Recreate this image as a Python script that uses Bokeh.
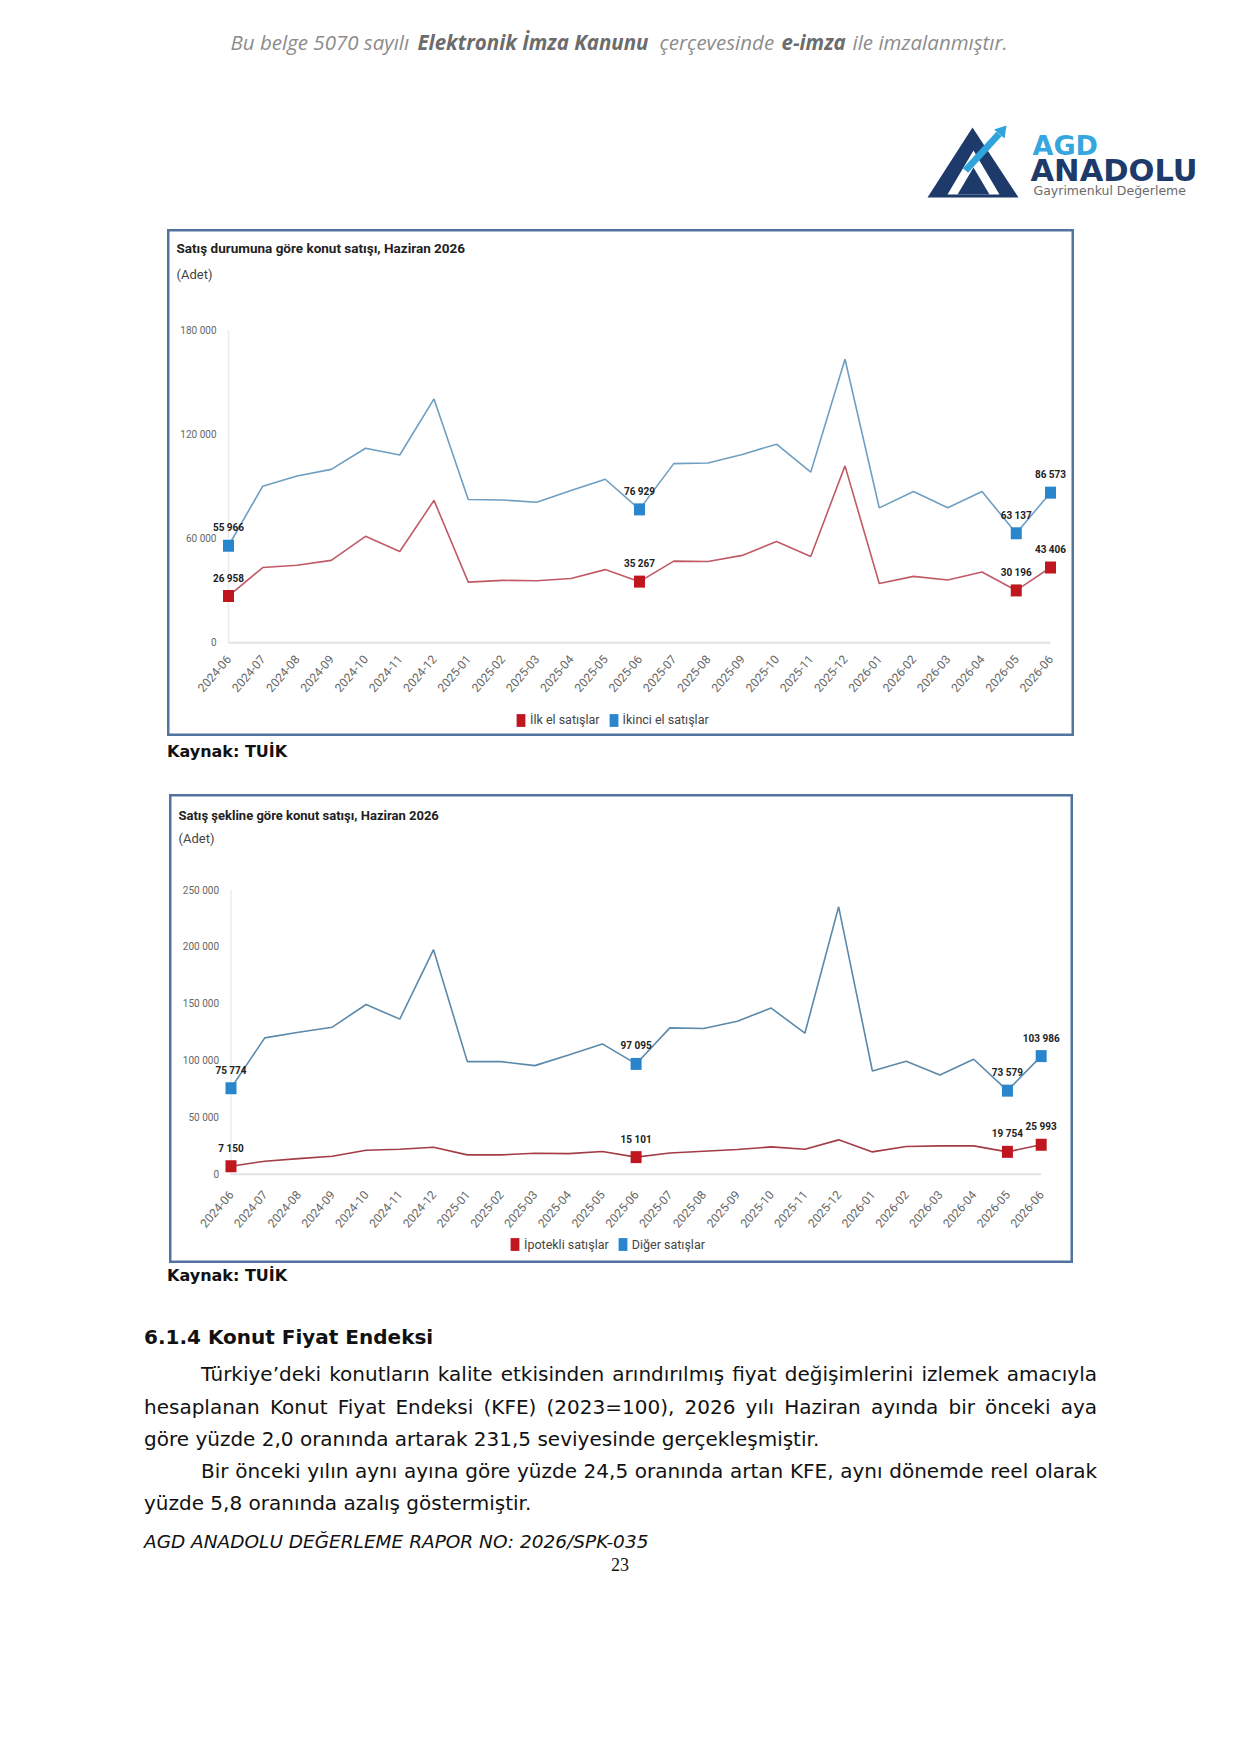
from bokeh.plotting import figure
from bokeh.models import Range1d, FixedTicker, Label, Legend, LegendItem, Div, Spacer
from bokeh.layouts import column, row
from bokeh.embed import file_html
from bokeh.resources import INLINE
from bokeh.core.properties import value

# ---------------- data ----------------
months = ["2024-06", "2024-07", "2024-08", "2024-09", "2024-10", "2024-11", "2024-12",
          "2025-01", "2025-02", "2025-03", "2025-04", "2025-05", "2025-06", "2025-07",
          "2025-08", "2025-09", "2025-10", "2025-11", "2025-12", "2026-01", "2026-02",
          "2026-03", "2026-04", "2026-05", "2026-06"]

chart1_title = "Satış durumuna göre konut satışı, Haziran 2026"
chart2_title = "Satış şekline göre konut satışı, Haziran 2026"
unit_label = "(Adet)"

ilk_el_name = "İlk el satışlar"
ikinci_el_name = "İkinci el satışlar"
ilk_el = [26958, 43400, 44700, 47500, 61400, 52600, 82100, 35000, 36000, 35800, 37100,
          42200, 35267, 47100, 46900, 50400, 58400, 49800, 102000, 34200, 38300, 36200,
          40800, 30196, 43406]
ikinci_el = [55966, 90300, 96200, 100000, 112200, 108300, 140600, 82600, 82300, 81000,
             87800, 94300, 76929, 103300, 103700, 108600, 114500, 98400, 163500, 77800,
             87200, 77900, 87200, 63137, 86573]

ipotekli_name = "İpotekli satışlar"
diger_name = "Diğer satışlar"
ipotekli = [7150, 11500, 13800, 15900, 21200, 22000, 23800, 17100, 17100, 18500, 18200,
            20000, 15101, 18800, 20300, 21800, 24100, 22100, 30300, 19700, 24400, 25000,
            25000, 19754, 25993]
diger = [75774, 120000, 125000, 129400, 149400, 136500, 197600, 99100, 99100, 95600,
         105000, 114700, 97095, 128800, 128200, 134700, 146200, 124100, 235300, 90900,
         99400, 87400, 101200, 73579, 103986]

chart1_yticks = [0, 60000, 120000, 180000]
chart1_yticklabels = ["0", "60 000", "120 000", "180 000"]
chart2_yticks = [0, 50000, 100000, 150000, 200000, 250000]
chart2_yticklabels = ["0", "50 000", "100 000", "150 000", "200 000", "250 000"]
labelled_idx = [0, 12, 23, 24]

source_note = "Kaynak: TUİK"

# ---------------- styles ----------------
BORDER = "#52739f"
RED_M = "#c0161f"
BLUE_M = "#2a86cc"
FONT = "Roboto"


def fmt(v):
    return f"{v:,}".replace(",", " ")


def make_chart(title, red_vals, blue_vals, red_name, blue_name, yticks, yticklabels, g):
    """g holds the box geometry in page pixels: box (left, top, width, height),
    pixel x of first category, pixel step, pixel y of value 0 and pixels per unit."""
    n = len(months)
    xs = list(range(n))
    L, T, W, H = g["box"]
    x0, step, y0, ppu = g["x0"], g["step"], g["y0"], g["ppu"]

    def dx(px):
        return (px - x0) / step

    def dy(py):
        return (y0 - py) / ppu

    p = figure(width=W, height=H, output_backend="svg", toolbar_location=None,
               x_range=Range1d(dx(L), dx(L + W)), y_range=Range1d(dy(T + H), dy(T)),
               min_border=0, background_fill_color="white", border_fill_color="white")
    p.grid.visible = False
    p.outline_line_color = BORDER
    p.outline_line_width = 4

    xa = p.xaxis[0]
    xa.fixed_location = 0
    xa.ticker = FixedTicker(ticks=xs)
    xa.major_label_overrides = {i: m for i, m in enumerate(months)}
    xa.major_label_orientation = 0.86
    xa.axis_line_color = None
    xa.major_tick_line_color = None
    xa.minor_tick_line_color = None
    xa.major_label_text_font = FONT
    xa.major_label_text_font_size = "12px"
    xa.major_label_text_color = "#666666"
    xa.major_label_standoff = g["xso"]

    ya = p.yaxis[0]
    ya.fixed_location = 0
    ya.ticker = FixedTicker(ticks=yticks)
    ya.major_label_overrides = {t: l for t, l in zip(yticks, yticklabels)}
    ya.axis_line_color = None
    ya.major_tick_line_color = None
    ya.minor_tick_line_color = None
    ya.major_label_text_font = FONT
    ya.major_label_text_font_size = "10px"
    ya.major_label_text_color = "#666666"
    ya.major_label_standoff = g["yso"]

    # faint axis lines
    p.line([0, 0], [0, yticks[-1]], line_color="#ececec", line_width=1.5)
    p.line([0, n - 1], [0, 0], line_color="#e2e2e2", line_width=2)

    p.line(xs, blue_vals, line_color=g["blue_line"], line_width=1.6)
    p.line(xs, red_vals, line_color=g["red_line"], line_width=1.6)

    lx = [xs[i] for i in labelled_idx]
    marks = {}
    for key, vals, col in (("blue", blue_vals, BLUE_M), ("red", red_vals, RED_M)):
        ly = [vals[i] for i in labelled_idx]
        marks[key] = p.rect(lx, ly, width=11, height=12, width_units="screen",
                            height_units="screen", fill_color=col, line_color=None)
        p.text(lx, ly, text=[fmt(v) for v in ly], text_align="center",
               text_baseline="middle", y_offset=-18, text_font=value(FONT),
               text_font_style="bold", text_font_size="10px", text_color="#222222")

    tx, ty, ay = g["title_pos"]
    p.add_layout(Label(x=dx(tx), y=dy(ty), text=title, text_font=FONT,
                       text_font_style="bold", text_font_size=g["tfs"],
                       text_color="#222222", text_baseline="middle"))
    p.add_layout(Label(x=dx(tx), y=dy(ay), text=unit_label, text_font=FONT,
                       text_font_size="13px", text_color="#444444",
                       text_baseline="middle"))

    lgx, lgy = g["legend_pos"]
    leg = Legend(items=[LegendItem(label=red_name, renderers=[marks["red"]]),
                        LegendItem(label=blue_name, renderers=[marks["blue"]])],
                 orientation="horizontal", location=(lgx - L, (T + H) - lgy),
                 glyph_width=11, glyph_height=16, label_height=16, label_standoff=4,
                 spacing=8, padding=0, margin=0, border_line_color=None,
                 background_fill_alpha=0, label_text_font=FONT,
                 label_text_font_size="12.5px", label_text_color="#444444")
    p.add_layout(leg)
    return p


g1 = dict(box=(167, 229, 907, 507), x0=228.0, step=34.25, y0=642.3, ppu=312.2 / 180000,
          xso=8, yso=6, title_pos=(176, 247, 274), tfs="13.5px",
          legend_pos=(515, 727.5), blue_line="#6e9ec0", red_line="#c05a66")
g2 = dict(box=(169, 794, 904, 469), x0=230.5, step=33.758, y0=1173.8, ppu=284.2 / 250000,
          xso=12, yso=6, title_pos=(178, 815, 838), tfs="13px",
          legend_pos=(509, 1252), blue_line="#5b89aa", red_line="#a33c47")

chart1 = make_chart(chart1_title, ilk_el, ikinci_el, ilk_el_name, ikinci_el_name,
                    chart1_yticks, chart1_yticklabels, g1)
chart2 = make_chart(chart2_title, ipotekli, diger, ipotekli_name, diger_name,
                    chart2_yticks, chart2_yticklabels, g2)

# ---------------- header (page coordinates) ----------------
PAGE_W = 1233
hdr = figure(width=PAGE_W, height=229, x_range=Range1d(0, PAGE_W), y_range=Range1d(229, 0),
             output_backend="svg", toolbar_location=None, x_axis_location=None,
             y_axis_location=None, min_border=0)
hdr.grid.visible = False
hdr.outline_line_color = None

wm_parts = ["Bu belge 5070 sayılı", "Elektronik İmza Kanunu", "çerçevesinde", "e-imza",
            "ile imzalanmıştır."]
wm_x = [230, 417, 659, 781, 852]
wm_bold = [False, True, False, True, False]
for t, x, b in zip(wm_parts, wm_x, wm_bold):
    hdr.text([x], [41], text=[t], text_font=value("Open Sans"),
             text_font_style="bold italic" if b else "italic", text_font_size="20.5px",
             text_color="#6c6c6c" if b else "#8c8c8c", text_baseline="middle",
             text_align="left")

NAVY = "#1e3a6b"
LBLUE = "#2fa3dc"
hdr.patch([927, 972, 1018], [197, 127, 197], fill_color=NAVY, line_color=None)
hdr.patch([947, 973, 999], [194, 150, 194], fill_color="white", line_color=None)
hdr.patch([957, 973, 989], [194, 167, 194], fill_color=NAVY, line_color=None)
hdr.line([965, 998.5], [170, 133.5], line_color=LBLUE, line_width=7)
hdr.patch([1006, 1004, 993.5], [125, 138, 129], fill_color=LBLUE, line_color=None)
hdr.text([1032], [145], text=["AGD"], text_font=value("DejaVu Sans"), text_font_style="bold",
         text_font_size="27px", text_color="#36a7de", text_baseline="middle")
hdr.text([1030], [170], text=["ANADOLU"], text_font=value("DejaVu Sans"),
         text_font_style="bold", text_font_size="30.5px", text_color=NAVY,
         text_baseline="middle")
hdr.text([1033], [190], text=["Gayrimenkul Değerleme"], text_font=value("DejaVu Sans"),
         text_font_size="12.5px", text_color="#6a6a6a", text_baseline="middle")

# ---------------- text blocks ----------------
mid = Div(text=('<div style="position:relative;width:1233px;height:58px;'
                "font-family:'DejaVu Sans';color:#111;\">"
                '<div style="position:absolute;left:167px;top:6px;line-height:20px;'
                f'font-size:16px;font-weight:bold;">{source_note}</div></div>'),
          width=PAGE_W, height=58, margin=0)

heading = "6.1.4 Konut Fiyat Endeksi"
body_lines = [
    ("Türkiye’deki konutların kalite etkisinden arındırılmış fiyat değişimlerini izlemek amacıyla", 201, 95, 896, True),
    ("hesaplanan Konut Fiyat Endeksi (KFE) (2023=100), 2026 yılı Haziran ayında bir önceki aya", 144, 127.5, 953, True),
    ("göre yüzde 2,0 oranında artarak 231,5 seviyesinde gerçekleşmiştir.", 144, 160, 953, False),
    ("Bir önceki yılın aynı ayına göre yüzde 24,5 oranında artan KFE, aynı dönemde reel olarak", 201, 191.5, 896, True),
    ("yüzde 5,8 oranında azalış göstermiştir.", 144, 224, 953, False),
]
footer = "AGD ANADOLU DEĞERLEME RAPOR NO: 2026/SPK-035"
page_no = "23"

html = ['<div style="position:relative;width:1233px;height:483px;'
        "font-family:'DejaVu Sans';color:#111;\">"]
html.append('<div style="position:absolute;left:167px;top:3px;line-height:20px;'
            f'font-size:16px;font-weight:bold;">{source_note}</div>')
html.append('<div style="position:absolute;left:144px;top:61px;line-height:26px;'
            f'font-size:20px;font-weight:bold;">{heading}</div>')
for txt, left, top, width, just in body_lines:
    align = "text-align:justify;text-align-last:justify;" if just else "text-align:left;"
    html.append(f'<div style="position:absolute;left:{left}px;top:{top}px;width:{width}px;'
                f'line-height:32px;font-size:20px;white-space:nowrap;{align}">{txt}</div>')
html.append('<div style="position:absolute;left:144px;top:267px;line-height:24px;'
            f'font-size:18.5px;font-style:italic;">{footer}</div>')
html.append('<div style="position:absolute;left:600px;top:290px;width:40px;line-height:24px;'
            "font-size:18px;text-align:center;font-family:'Liberation Serif';\">"
            f'{page_no}</div>')
html.append('</div>')
bottom = Div(text="".join(html), width=PAGE_W, height=483, margin=0)

layout = column(
    hdr,
    row(Spacer(width=167, height=507, margin=0), chart1, spacing=0),
    mid,
    row(Spacer(width=169, height=469, margin=0), chart2, spacing=0),
    bottom,
    spacing=0,
)

open("out.html", "w").write(file_html(layout, INLINE))
